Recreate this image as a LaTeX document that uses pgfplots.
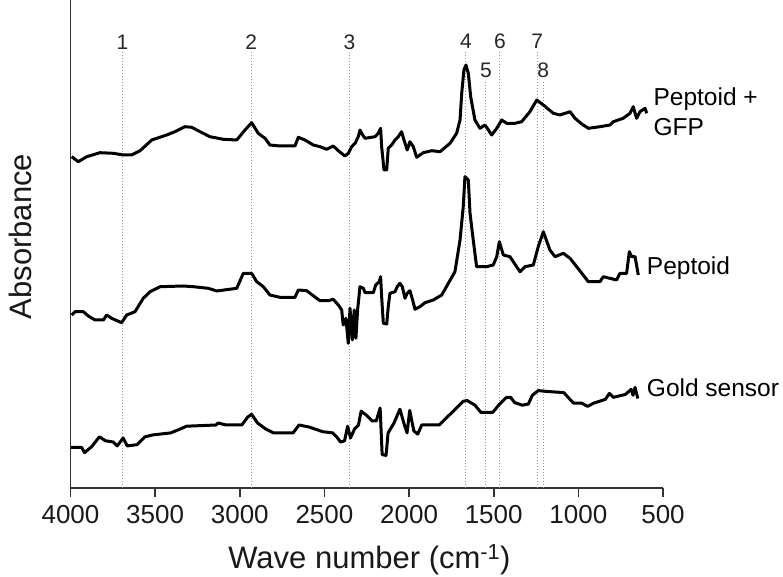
\documentclass[border=0pt]{standalone}
\usepackage{pgfplots}
\usepackage{pgfplotstable}
\pgfplotsset{compat=1.18}
\usepackage{fontspec}
\setmainfont{Liberation Sans}

% Peptoid + GFP (wave number, absorbance in arbitrary offset units)
\pgfplotstableread{
wn a
3993 331.3
3954 326.3
3904 331.3
3826 335.3
3747 334.7
3688 333
3639 333
3589 337.3
3520 348
3432 353
3383 356.3
3324 361.3
3284 360.7
3235 356.3
3176 351.3
3097 348.7
3018 348
2969 358
2930 365.3
2891 354.7
2851 349.7
2822 343
2763 342
2674 342
2654 350.7
2615 348
2566 343
2526 341.3
2487 338.7
2448 342
2418 337.3
2379 332
2359 334.7
2339 341.3
2319 344.7
2300 351.3
2290 358
2274 353
2260 349.7
2201 351.3
2182 354.7
2168 359.7
2162 341.3
2148 318
2132 318
2123 339.7
2103 343
2083 348
2064 351.3
2044 356.3
2030 348
2011 338
1995 346.3
1975 341.3
1955 330.7
1936 333
1916 335.3
1866 337.3
1817 336.3
1758 344.7
1719 354.7
1699 368
1689 394.7
1676 418
1664 423
1650 414.7
1636 391.3
1611 368
1581 359.7
1552 363
1538 359.7
1512 353
1482 359.7
1453 368
1423 364.7
1374 364.7
1335 366.3
1286 376.3
1246 388
1207 383
1148 374.7
1109 373
1049 376.3
1020 369.7
980 364
941 359.7
872 361.3
813 363
794 366.3
735 369.7
695 374.7
676 381.3
656 369.7
636 376.3
606 379.7
596 374.7
}\gfp

% Peptoid
\pgfplotstableread{
wn a
3993 173
3973 176.3
3924 176.3
3895 172
3855 168
3806 168
3786 173
3757 169.7
3698 165.3
3668 173
3619 176.3
3570 189.7
3530 196.3
3471 201.3
3334 202
3275 201.3
3186 199.7
3136 197
3018 199.7
2979 214.7
2930 214.7
2900 206.3
2861 201.3
2822 193
2763 190.7
2674 190.7
2654 198
2605 197.3
2546 189.7
2526 187.3
2477 187.3
2448 188.7
2418 183
2398 178
2389 163
2373 169.7
2359 144.7
2349 179.7
2335 148
2324 178
2314 149.7
2304 178
2290 201.3
2270 199.7
2260 195.3
2211 195.3
2197 203
2176 206.3
2168 211.3
2162 191.3
2152 164.7
2132 164
2123 181.3
2113 194.7
2083 196.3
2070 201.3
2054 204.7
2040 201.3
2024 189.7
2011 194.7
1995 197.3
1979 188
1965 178.7
1936 181.3
1906 185.3
1857 188
1807 193
1768 204.7
1729 216.3
1699 248
1680 281.3
1670 311.3
1650 308
1640 274.7
1621 248
1601 221.3
1542 221.3
1503 223
1482 231.3
1467 246.3
1443 233
1404 231.3
1345 216.3
1315 221.3
1266 223
1237 241.3
1207 256.3
1168 238
1138 231.3
1089 234.7
1049 229.7
1010 221.3
941 206.3
872 206.3
853 211.3
774 208
754 214.7
715 214.7
699 236.3
685 231.3
665 231.3
646 213
}\pep

% Gold sensor
\pgfplotstableread{
wn a
3996 40.5
3934 40.5
3917 35.4
3875 41.3
3829 51.2
3793 47.2
3747 46
3724 42.1
3689 50
3665 42.1
3607 43.3
3560 51.2
3513 53.1
3408 55.1
3350 59.1
3315 61.8
3140 63
3128 65
3081 63
2988 63
2953 71
2930 73.7
2895 65
2848 59.1
2801 55.1
2685 55.1
2650 63
2591 61
2510 56.3
2451 55.1
2428 51.2
2405 46
2381 47.2
2363 61.8
2346 50
2322 59.1
2299 63
2283 76.9
2253 72.9
2217 67
2194 67
2171 80
2159 33.4
2136 32.6
2124 55.1
2089 65
2054 78.8
2031 65
2012 55.1
1996 77.6
1972 57.1
1949 53.9
1925 63
1821 63
1774 71
1727 78.8
1680 86.7
1657 87.5
1611 82.8
1576 75.7
1505 75.7
1471 82.8
1424 90.7
1400 90.7
1377 85.5
1331 82.8
1295 84
1272 92.7
1237 97.4
1190 96.6
1086 95.4
1050 88.7
1027 84.8
980 84.8
945 81.6
910 84.8
840 88.7
817 94.6
793 90.7
723 93.5
688 98.6
677 92.7
665 100.6
649 89.5
}\gold

% Peak positions: wave number, label, label baseline height, line top
\pgfplotstableread{
wn lab lb lt
3693 1 438 436
2932 2 438 436
2352 3 438 436
1664 4 439 436
1546 5 410 406
1463 6 439 436
1243 7 439 436
1207 8 410 406
}\peaks

\begin{document}
\begin{tikzpicture}
\useasboundingbox (-70.5pt,-89pt) rectangle (712.5pt,488pt);
\begin{axis}[
  at={(0pt,0pt)}, anchor=south west,
  scale only axis,
  width=592.5pt, height=488pt,
  xmin=500, xmax=4000, x dir=reverse,
  ymin=0, ymax=488,
  axis x line*=bottom, axis y line*=left,
  axis line style={line width=1.6pt, black!80},
  xtick={500,1000,...,4000},
  ytick=\empty,
  tick align=outside,
  major tick length=9pt,
  xtick style={line width=1.6pt, black!80},
  /pgf/number format/assume math mode=true,
  /pgf/number format/1000 sep={},
  xticklabel style={font=\fontsize{26}{30}\selectfont, text=black!90, yshift=-5pt},
  xlabel={Wave number (cm\textsuperscript{-1})},
  xlabel style={at={(axis description cs:0.5046,-0.164)}, anchor=base,
    font=\fontsize{31}{36}\selectfont, text=black!90},
  ylabel={Absorbance},
  ylabel style={at={(axis description cs:-0.065,0.515)}, rotate=0, anchor=base,
    font=\fontsize{31}{36}\selectfont, text=black!90},
  clip=false,
]
% reference lines for the peaks
\pgfplotsinvokeforeach{0,...,7}{
  \pgfplotstablegetelem{#1}{wn}\of\peaks \edef\pw{\pgfplotsretval}
  \pgfplotstablegetelem{#1}{lab}\of\peaks \edef\pl{\pgfplotsretval}
  \pgfplotstablegetelem{#1}{lb}\of\peaks \edef\pb{\pgfplotsretval}
  \pgfplotstablegetelem{#1}{lt}\of\peaks \edef\pt{\pgfplotsretval}
  \edef\temp{\noexpand\draw[gray!80, line width=1pt, dash pattern=on 1.4pt off 1.6pt]
    (axis cs:\pw,0) -- (axis cs:\pw,\pt);
    \noexpand\node[anchor=base, inner sep=0pt, font=\noexpand\fontsize{21}{24}\noexpand\selectfont, text=black!85]
    at (axis cs:\pw,\pb) {\pl};}
  \temp
}
\addplot[black, line width=3pt, line join=round] table[x=wn, y=a] {\gfp};
\addplot[black, line width=3pt, line join=round] table[x=wn, y=a] {\pep};
\addplot[black, line width=3pt, line join=round] table[x=wn, y=a] {\gold};
\begin{scope}[font=\fontsize{24.5}{28}\selectfont]
\node[anchor=base west, inner sep=0pt] at (axis cs:557,382) {Peptoid +};
\node[anchor=base west, inner sep=0pt] at (axis cs:557,352.3) {GFP};
\node[anchor=base west, inner sep=0pt] at (axis cs:596,213) {Peptoid};
\node[anchor=base west, inner sep=0pt] at (axis cs:596,91.3) {Gold sensor};
\end{scope}
\end{axis}
\end{tikzpicture}
\end{document}
